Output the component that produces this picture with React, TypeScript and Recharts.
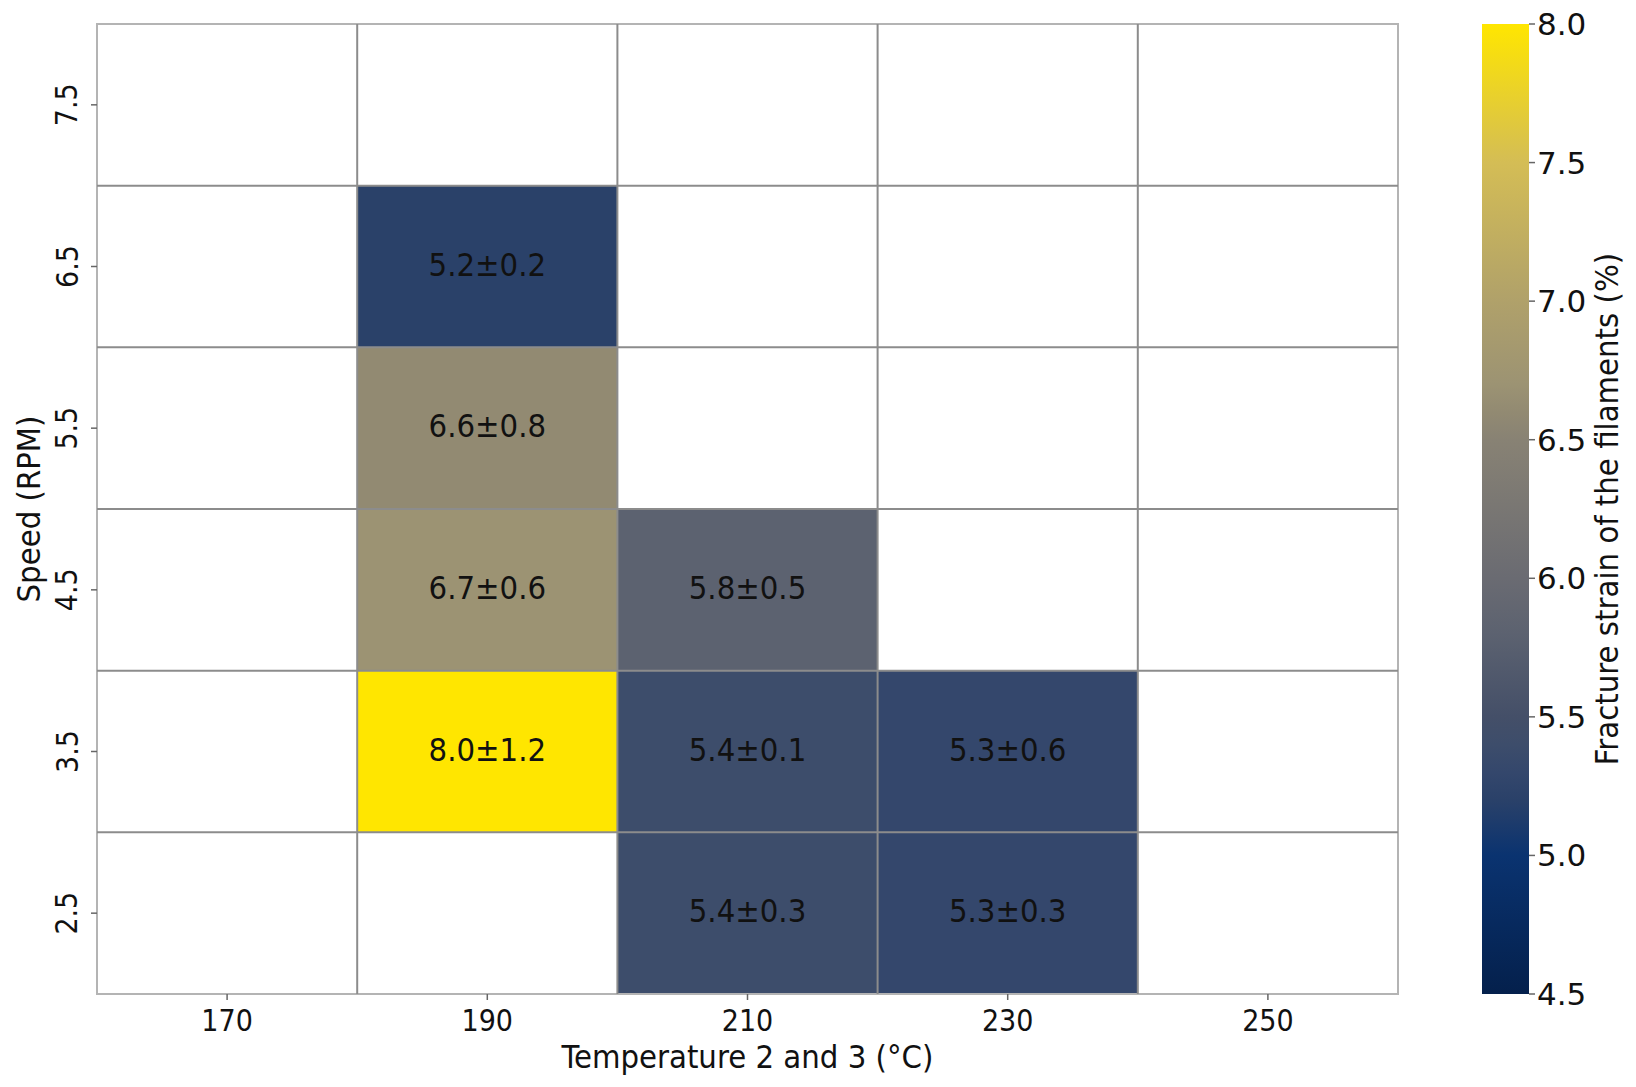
import React from 'react';
import {
  ScatterChart,
  Scatter,
  XAxis,
  YAxis,
  ReferenceArea,
  ReferenceLine,
  Label,
  BarChart,
  Bar,
} from 'recharts';

// ---- data ----
const TEMPS = [170, 190, 210, 230, 250];
const SPEEDS = [2.5, 3.5, 4.5, 5.5, 6.5, 7.5];
const TEMP_STEP = 20;
const SPEED_STEP = 1;

const CELL_TEMP = [190, 190, 190, 190, 210, 210, 210, 230, 230];
const CELL_SPEED = [6.5, 5.5, 4.5, 3.5, 4.5, 3.5, 2.5, 3.5, 2.5];
const CELL_MEAN = [5.2, 6.6, 6.7, 8.0, 5.8, 5.4, 5.4, 5.3, 5.3];
const CELL_SD = [0.2, 0.8, 0.6, 1.2, 0.5, 0.1, 0.3, 0.6, 0.3];

const CB_MIN = 4.5;
const CB_MAX = 8.0;
const CB_TICKS = [4.5, 5.0, 5.5, 6.0, 6.5, 7.0, 7.5, 8.0];

// colour map (cividis-like, as seen in the figure)
const CMAP_VALUES = [4.5, 5.0, 5.2, 5.3, 5.4, 5.5, 5.8, 6.0, 6.5, 6.6, 6.7, 7.0, 7.5, 8.0];
const CMAP_COLORS = [
  '#04204c', '#0a3370', '#2a4169', '#34476c', '#3d4d6b', '#444f68', '#5c6270',
  '#6a6b72', '#888274', '#928a72', '#9c9373', '#b0a16a', '#d4bd55', '#ffe600',
];

const FONT_COND = "'DejaVu Sans Condensed', 'DejaVu Sans', sans-serif";
const FONT = "'DejaVu Sans', sans-serif";
const GRID = '#8c8c8c';

function hexToRgb(h: string) {
  const n = parseInt(h.slice(1), 16);
  return [(n >> 16) & 255, (n >> 8) & 255, n & 255];
}
function colorFor(v: number) {
  if (v <= CMAP_VALUES[0]) return CMAP_COLORS[0];
  for (let i = 1; i < CMAP_VALUES.length; i++) {
    if (v <= CMAP_VALUES[i]) {
      const t = (v - CMAP_VALUES[i - 1]) / (CMAP_VALUES[i] - CMAP_VALUES[i - 1]);
      const a = hexToRgb(CMAP_COLORS[i - 1]);
      const b = hexToRgb(CMAP_COLORS[i]);
      const c = a.map((x, k) => Math.round(x + (b[k] - x) * t));
      return `rgb(${c[0]},${c[1]},${c[2]})`;
    }
  }
  return CMAP_COLORS[CMAP_COLORS.length - 1];
}

const cells = CELL_TEMP.map((t, i) => ({
  temp: t,
  speed: CELL_SPEED[i],
  mean: CELL_MEAN[i],
  label: `${CELL_MEAN[i].toFixed(1)}±${CELL_SD[i].toFixed(1)}`,
}));

const X_MIN = TEMPS[0] - TEMP_STEP / 2;
const X_MAX = TEMPS[TEMPS.length - 1] + TEMP_STEP / 2;
const Y_MIN = SPEEDS[0] - SPEED_STEP / 2;
const Y_MAX = SPEEDS[SPEEDS.length - 1] + SPEED_STEP / 2;
const X_BOUNDS = TEMPS.slice(1).map((t) => t - TEMP_STEP / 2);
const Y_BOUNDS = SPEEDS.slice(1).map((s) => s - SPEED_STEP / 2);

const XTick = (p: any) => (
  <text x={p.x} y={p.y + 18} textAnchor="middle" dominantBaseline="central"
    fontFamily={FONT_COND} fontSize={30} fill="#111" style={{ fontStretch: 'condensed' }}>
    {p.payload.value}
  </text>
);
const YTick = (p: any) => {
  const x = p.x - 22;
  return (
    <text x={x} y={p.y} transform={`rotate(-90, ${x}, ${p.y})`} textAnchor="middle"
      dominantBaseline="central" fontFamily={FONT_COND} fontSize={30} fill="#111"
      style={{ fontStretch: 'condensed' }}>
      {p.payload.value}
    </text>
  );
};
const CbTick = (p: any) => (
  <text x={p.x - 1} y={p.y} textAnchor="start" dominantBaseline="central"
    fontFamily={FONT} fontSize={31} fill="#111">
    {Number(p.payload.value).toFixed(1)}
  </text>
);

const CellText = (p: any) => (
  <text x={p.cx} y={p.cy - 2} textAnchor="middle" dominantBaseline="central"
    fontFamily={FONT_COND} fontSize={32.5} fill="#111" style={{ fontStretch: 'condensed' }}>
    {p.payload.label}
  </text>
);

export default function App() {
  const allCells: { t: number; s: number }[] = [];
  TEMPS.forEach((t) => SPEEDS.forEach((s) => allCells.push({ t, s })));
  return (
    <div style={{ position: 'absolute', left: 0, top: 0, width: 1636, height: 1087, background: '#fff' }}>
      <div style={{ position: 'absolute', left: 0, top: 0 }}>
        <ScatterChart width={1636} height={1087} margin={{ top: 24, right: 238, bottom: 0, left: 0 }}>
          <XAxis type="number" dataKey="temp" domain={[X_MIN, X_MAX]} ticks={TEMPS}
            height={93} tickSize={6} tickMargin={2} axisLine={false}
            tickLine={{ stroke: '#666', strokeWidth: 1.5 }} tick={<XTick />} interval={0}>
            <Label content={(props: any) => {
              const vb = props.viewBox;
              return (
                <text x={vb.x + vb.width / 2} y={vb.y + 63} textAnchor="middle" dominantBaseline="central"
                  fontFamily={FONT_COND} fontSize={32.5} fill="#111" style={{ fontStretch: 'condensed' }}>
                  Temperature 2 and 3 (°C)
                </text>
              );
            }} />
          </XAxis>
          <YAxis type="number" dataKey="speed" domain={[Y_MIN, Y_MAX]} ticks={SPEEDS}
            width={97} tickSize={6} tickMargin={2} axisLine={false}
            tickLine={{ stroke: '#666', strokeWidth: 1.5 }} tick={<YTick />} interval={0}>
            <Label content={(props: any) => {
              const vb = props.viewBox;
              const x = vb.x + 29;
              const y = vb.y + vb.height / 2;
              return (
                <text x={x} y={y} transform={`rotate(-90, ${x}, ${y})`} textAnchor="middle"
                  dominantBaseline="central" fontFamily={FONT_COND} fontSize={32.5} fill="#111"
                  style={{ fontStretch: 'condensed' }}>
                  Speed (RPM)
                </text>
              );
            }} />
          </YAxis>
          {allCells.map((c, i) => {
            const hit = cells.find((d) => d.temp === c.t && d.speed === c.s);
            return (
              <ReferenceArea key={`c${i}`} x1={c.t - TEMP_STEP / 2} x2={c.t + TEMP_STEP / 2}
                y1={c.s - SPEED_STEP / 2} y2={c.s + SPEED_STEP / 2}
                fill={hit ? colorFor(hit.mean) : '#ffffff'} fillOpacity={1} stroke="none" ifOverflow="visible" />
            );
          })}
          {X_BOUNDS.map((x) => (
            <ReferenceLine key={`vx${x}`} x={x} stroke={GRID} strokeWidth={2} ifOverflow="visible" />
          ))}
          {Y_BOUNDS.map((y) => (
            <ReferenceLine key={`hy${y}`} y={y} stroke={GRID} strokeWidth={2} ifOverflow="visible" />
          ))}
          <ReferenceArea x1={X_MIN} x2={X_MAX} y1={Y_MIN} y2={Y_MAX} fill="none"
            stroke="#b4b4b4" strokeWidth={2} ifOverflow="visible" />
          <Scatter data={cells} isAnimationActive={false} shape={<CellText />} />
        </ScatterChart>
      </div>
      <div style={{ position: 'absolute', left: 1482, top: 0 }}>
        <BarChart width={154} height={1087} data={[{ name: 'cb', range: [CB_MIN, CB_MAX] }]}
          margin={{ top: 24, right: 27, bottom: 93, left: 0 }} barCategoryGap={0} barGap={0}>
          <defs>
            <linearGradient id="cbGrad" x1="0" y1="1" x2="0" y2="0">
              {CMAP_VALUES.map((v, i) => (
                <stop key={i} offset={`${((v - CB_MIN) / (CB_MAX - CB_MIN)) * 100}%`} stopColor={CMAP_COLORS[i]} />
              ))}
            </linearGradient>
          </defs>
          <XAxis dataKey="name" hide />
          <YAxis orientation="right" type="number" domain={[CB_MIN, CB_MAX]} ticks={CB_TICKS}
            width={80} tickSize={6} tickMargin={3} axisLine={false} interval={0}
            tickLine={{ stroke: '#666', strokeWidth: 1.5 }} tick={<CbTick />}>
            <Label content={(props: any) => {
              const vb = props.viewBox;
              const x = vb.x + 78;
              const y = vb.y + vb.height / 2;
              return (
                <text x={x} y={y} transform={`rotate(-90, ${x}, ${y})`} textAnchor="middle"
                  dominantBaseline="central" fontFamily={FONT_COND} fontSize={32.5} fill="#111"
                  style={{ fontStretch: 'condensed' }}>
                  Fracture strain of the filaments (%)
                </text>
              );
            }} />
          </YAxis>
          <Bar dataKey="range" fill="url(#cbGrad)" isAnimationActive={false} />
        </BarChart>
      </div>
    </div>
  );
}
